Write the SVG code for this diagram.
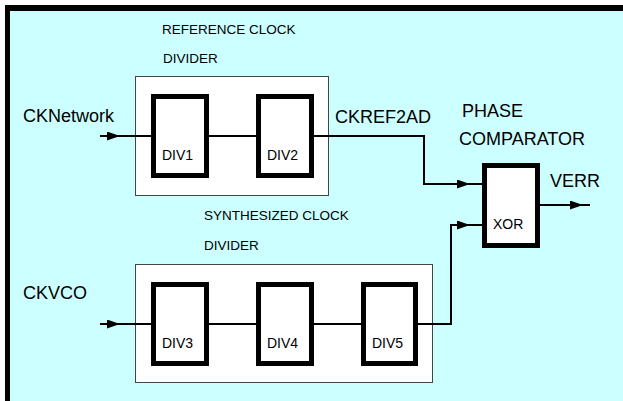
<svg xmlns="http://www.w3.org/2000/svg" width="623" height="401" viewBox="0 0 623 401">
<style>
.t{font-family:"Liberation Sans",Arial,sans-serif;fill:#000}
.big{font-size:18px}
.small{font-size:13.5px}
.div{font-size:14px}
.grp{fill:#fff;stroke:#444;stroke-width:1}
.blk{fill:#fff;stroke:#000;stroke-width:5}
.w{fill:none;stroke:#000;stroke-width:2}
</style>
<defs>
<marker id="ah" markerUnits="userSpaceOnUse" markerWidth="14" markerHeight="10" refX="13" refY="4.5" orient="auto">
<path d="M0,0 L13,4.5 L0,9 z" fill="#000"/>
</marker>
</defs>
<rect x="0" y="0" width="623" height="401" fill="#fff"/>
<rect x="10" y="11" width="613" height="390" fill="#ccffff"/>
<rect x="5" y="5" width="618" height="6" fill="#000"/>
<rect x="5" y="5" width="5" height="396" fill="#000"/>

<g id="labels">
<text class="t small" x="162" y="34">REFERENCE CLOCK</text>
<text class="t small" x="163" y="63">DIVIDER</text>
<text class="t small" x="204" y="220">SYNTHESIZED CLOCK</text>
<text class="t small" x="204" y="250">DIVIDER</text>
<text class="t big" x="23" y="122">CKNetwork</text>
<text class="t big" x="23" y="299">CKVCO</text>
<text class="t big" x="335" y="123">CKREF2AD</text>
<text class="t big" x="462" y="117">PHASE</text>
<text class="t big" x="459" y="145">COMPARATOR</text>
<text class="t big" x="550" y="187">VERR</text>
</g>

<g id="refDivider"><rect class="grp" x="135.5" y="76.5" width="193" height="119"/></g>
<g id="synDivider"><rect class="grp" x="135.5" y="264.5" width="297" height="118"/></g>

<g id="connectors">
<path class="w" d="M100,136 L120,136" marker-end="url(#ah)"/>
<path class="w" d="M119,136 L152,136"/>
<path class="w" d="M208,136 L257,136"/>
<path class="w" d="M313,136 L424,136 L424,184 L470,184" marker-end="url(#ah)"/>
<path class="w" d="M469,184 L482,184"/>
<path class="w" d="M100,324 L120,324" marker-end="url(#ah)"/>
<path class="w" d="M119,324 L152,324"/>
<path class="w" d="M208,324 L257,324"/>
<path class="w" d="M313,324 L362,324"/>
<path class="w" d="M417,324 L451,324 L451,225 L470,225" marker-end="url(#ah)"/>
<path class="w" d="M469,225 L482,225"/>
<path class="w" d="M540,205 L583,205" marker-end="url(#ah)"/>
<path class="w" d="M582,205 L590,205"/>
</g>

<g id="div1"><rect class="blk" x="153.5" y="96.5" width="53" height="79"/><text class="t div" x="162" y="160">DIV1</text></g>
<g id="div2"><rect class="blk" x="258.5" y="96.5" width="53" height="79"/><text class="t div" x="267" y="160">DIV2</text></g>
<g id="div3"><rect class="blk" x="153.5" y="284.5" width="53" height="79"/><text class="t div" x="162" y="348">DIV3</text></g>
<g id="div4"><rect class="blk" x="258.5" y="284.5" width="53" height="79"/><text class="t div" x="267" y="348">DIV4</text></g>
<g id="div5"><rect class="blk" x="363.5" y="284.5" width="52" height="79"/><text class="t div" x="372" y="348">DIV5</text></g>
<g id="xor"><rect class="blk" x="484.5" y="165.5" width="53" height="80"/><text class="t div" x="493" y="229">XOR</text></g>
</svg>
